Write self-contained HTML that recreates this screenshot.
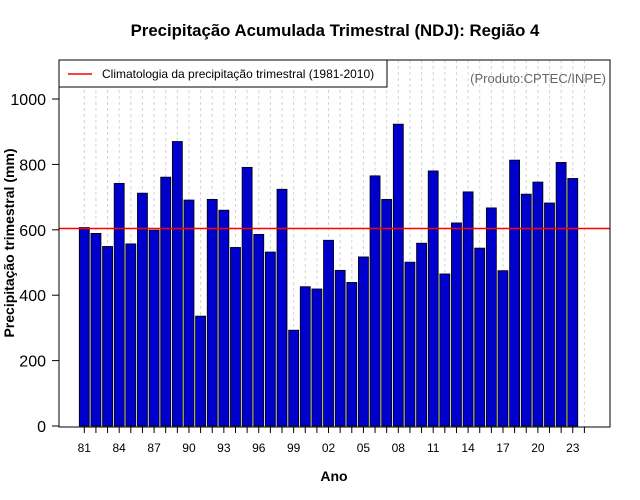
<!DOCTYPE html>
<html><head><meta charset="utf-8"><style>
body{margin:0;background:#fff}
svg{display:block;font-family:"Liberation Sans",sans-serif}
</style></head><body>
<svg id="c" width="640" height="500">
<text x="335" y="36" text-anchor="middle" font-weight="bold" font-size="16.8">Precipitação Acumulada Trimestral (NDJ): Região 4</text>
<text x="334" y="481" text-anchor="middle" font-weight="bold" font-size="14">Ano</text>
<text transform="translate(14,243) rotate(-90)" text-anchor="middle" font-weight="bold" font-size="14">Precipitação trimestral (mm)</text>
<g id="grid"></g><g id="bars"></g><g id="axes"></g>
<rect x="59" y="60" width="551" height="367" fill="none" stroke="#000"/>
<g>
<rect x="59" y="60" width="328" height="27" fill="#fff" stroke="#000"/>
<line x1="68" y1="74" x2="92" y2="74" stroke="#f00" stroke-width="1.5"/>
<text x="102" y="78" font-size="12">Climatologia da precipitação trimestral (1981-2010)</text>
</g>
<text x="606" y="83" text-anchor="end" font-size="13" fill="#666">(Produto:CPTEC/INPE)</text>
</svg>
<script>
const years=[81,82,83,84,85,86,87,88,89,90,91,92,93,94,95,96,97,98,99,0,1,2,3,4,5,6,7,8,9,10,11,12,13,14,15,16,17,18,19,20,21,22,23];
const values=[607,589,549,742,557,712,599,761,870,691,336,693,660,546,791,586,532,724,293,426,419,568,476,439,517,765,693,923,501,559,780,465,621,716,544,667,475,813,709,746,682,806,757];
const climatology=[604];
const yTicks=[0,200,400,600,800,1000];
const NS="http://www.w3.org/2000/svg";
const x=i=>84.3+i*11.63;
const y=v=>426-v*0.327;
function mk(t,a,p){const e=document.createElementNS(NS,t);for(const k in a)e.setAttribute(k,a[k]);p.appendChild(e);return e;}
const grid=document.getElementById('grid'),bars=document.getElementById('bars'),axes=document.getElementById('axes');
for(let i=0;i<=years.length;i++){
  const g=mk('line',{x1:x(i),x2:x(i),y1:60,y2:427,stroke:'#d4d4d4','stroke-dasharray':'3,3'},grid);
  
  
  const t=mk('line',{x1:x(i),x2:x(i),y1:427,y2:433,stroke:'#000'},axes);
  
  
}
years.forEach((yr,i)=>{
  const b=mk('rect',{x:x(i)-5,y:y(values[i]),width:10,height:426-y(values[i]),fill:'#0000cc',stroke:'#000','stroke-width':0.8},bars);
  
  
  if(i%3===0){
    const l=mk('text',{x:x(i),y:452,'text-anchor':'middle','font-size':12},axes);
    l.textContent=String(yr).padStart(2,'0');
    
    
  }
});
yTicks.forEach(v=>{
  const t=mk('line',{x1:52,x2:59,y1:y(v),y2:y(v),stroke:'#000'},axes);
  
  
  const l=mk('text',{x:46,y:y(v)+6,'text-anchor':'end','font-size':16},axes);
  l.textContent=v;
  
  
});
const cl=mk('line',{x1:59,x2:610,y1:y(climatology[0]),y2:y(climatology[0]),stroke:'#f00','stroke-width':1.5},axes);


</script>
</body></html>
